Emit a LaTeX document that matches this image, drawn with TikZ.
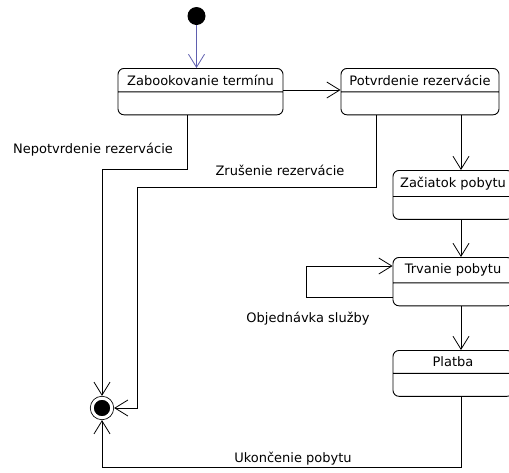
\documentclass[tikz,border=0pt]{standalone}
\usepackage{fontspec}
\setmainfont{DejaVu Sans}
\usetikzlibrary{arrows.meta,shapes.multipart}
\definecolor{initblue}{RGB}{95,95,175}
\tikzstyle{basic arrow}=[-{Straight Barb[length=13pt,width=16pt]}, line width=0.8pt]
\tikzstyle{state}=[draw, rounded corners=6pt, rectangle split, rectangle split parts=2, fill=white, anchor=north, inner ysep=6pt, rectangle split empty part height=10pt, minimum width=120pt, line width=0.9pt, font=\fontsize{13}{15}\selectfont]
\tikzstyle{init}=[circle, fill=black, minimum size=18pt, inner sep=0pt]
\tikzstyle{final}=[circle, draw=black, fill=black, double=white, double distance=3pt, line width=0.8pt, minimum size=19.5pt, inner sep=0pt, outer sep=2.4pt]
\tikzstyle{label}=[font=\fontsize{13}{15}\selectfont]

\begin{document}
\begin{tikzpicture}[x=1pt, y=1pt]
		\useasboundingbox (0,0) rectangle (509,-472);
		\clip (0,0) rectangle (509,-472);

		\node [style=init]  (0) at (196.5,-16) {};
		\node [style=state, minimum width=165pt] (1) at (200.5,-68) {Zabookovanie termínu};
		\node [style=state, minimum width=158pt] (2) at (420,-68) {Potvrdenie rezervácie};
		\node [style=state] (3) at (453,-170) {Začiatok pobytu};
		\node [style=state] (4) at (453,-257) {Trvanie pobytu};
		\node [style=state] (5) at (453,-350) {Platba};
		\node [style=final] (6) at (102,-408) {};

		\node [style=label] (7) at (93,-150) {Nepotvrdenie rezervácie};
		\node [style=label] (8) at (280,-170) {Zrušenie rezervácie};
		\node [style=label] (9) at (308,-319) {Objednávka služby};
		\node [style=label] (10) at (293,-459) {Ukončenie pobytu};

		\coordinate (r) at (461,0);
		\coordinate (z) at (137,-187);

		\draw [style=basic arrow, initblue] (0) to (0 |- 1.north);
		\draw [style=basic arrow] ([yshift=-22pt]1.north east) to ([yshift=-22pt]2.north west);
		\draw [style=basic arrow] (2.south -| r) to (3.north -| r);
		\draw [style=basic arrow] (3.south -| r) to (4.north -| r);
		\draw [style=basic arrow] (4.south -| r) to (5.north -| r);
		\draw [style=basic arrow] ([yshift=-40pt]4.north west) -- ++(-86,0) |- ([yshift=-9pt]4.north west);
		\draw [style=basic arrow] ([xshift=-13.5pt]1.south) -- ++(0,-54) -| (6.north);
		\draw [style=basic arrow] ([xshift=-44pt]2.south) |- (z) |- (6.east);
		\draw [style=basic arrow] (5.south -| r) -- ++(0,-71) -| (6.south);

\end{tikzpicture}
\end{document}
